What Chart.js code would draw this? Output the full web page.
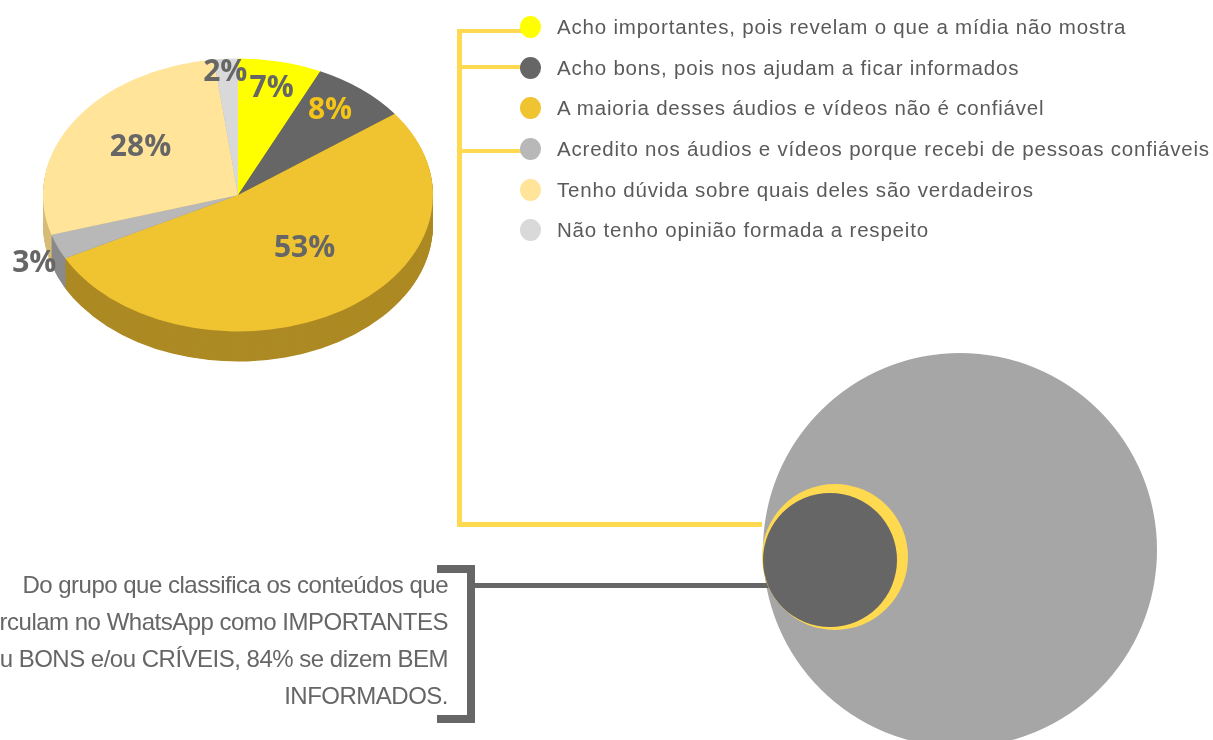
<!DOCTYPE html>
<html lang="pt-BR">
<head>
<meta charset="utf-8">
<title>Conteúdos no WhatsApp</title>
<script src="https://cdn.jsdelivr.net/npm/chart.js@4"></script>
<style>
    html, body {
        margin: 0;
        padding: 0;
        background: #fff;
        width: 1213px;
        height: 740px;
        overflow: hidden;
        position: relative;
    }
    #pieWrap {
        position: absolute;
        left: 0;
        top: 0;
        width: 480px;
        height: 400px;
    }
    .bar {
        position: absolute;
    }
    .yellow { background: #FFD94F; }
    .grey { background: #666666; }
    .legend {
        position: absolute;
        left: 520px;
        top: 7px;
        font-family: "Liberation Sans", Arial, sans-serif;
        font-size: 20.5px;
        letter-spacing: 0.8px;
        color: #5a5a5a;
        z-index: 3;
    }
    .legend-item {
        display: flex;
        align-items: center;
        height: 40.6px;
        white-space: nowrap;
    }
    .legend-dot {
        width: 21px;
        height: 22px;
        border-radius: 50%;
        margin-right: 16px;
    }
    .circle {
        position: absolute;
        border-radius: 50%;
    }
    .note {
        position: absolute;
        right: 765px;
        top: 566px;
        text-align: right;
        white-space: nowrap;
        font-family: "Liberation Sans", Arial, sans-serif;
        font-size: 24px;
        letter-spacing: -0.5px;
        line-height: 37px;
        color: #666;
    }
</style>
</head>
<body>

<div id="pieWrap"><canvas id="pieChart" width="480" height="400"></canvas></div>

<!-- yellow connector -->
<div class="bar yellow" style="left:457px; top:29px; width:5px; height:498px;"></div>
<div class="bar yellow" style="left:457px; top:522px; width:305px; height:5px;"></div>
<div class="bar yellow" style="left:457px; top:29px; width:75px; height:4px;"></div>
<div class="bar yellow" style="left:457px; top:65px; width:75px; height:4px;"></div>
<div class="bar yellow" style="left:457px; top:149px; width:75px; height:4px;"></div>

<div class="legend" id="legend"></div>

<!-- circles -->
<div class="circle" style="left:763px; top:353px; width:394px; height:394px; background:#A6A6A6;"></div>
<div class="grey bar" style="left:475px; top:583px; width:300px; height:5px;"></div>
<div class="circle" style="left:762px; top:484px; width:146px; height:146px; background:#FFD94F;"></div>
<div class="circle" style="left:763px; top:493px; width:134px; height:134px; background:#666666;"></div>

<!-- bracket -->
<div class="bar grey" style="left:467px; top:565px; width:8px; height:158px;"></div>
<div class="bar grey" style="left:437px; top:565px; width:38px; height:8px;"></div>
<div class="bar grey" style="left:437px; top:715px; width:38px; height:8px;"></div>

<div class="note">
    Do grupo que classifica os conteúdos que<br>
    circulam no WhatsApp como IMPORTANTES<br>
    ou BONS e/ou CRÍVEIS, 84% se dizem BEM<br>
    INFORMADOS.
</div>

<script>
// ===================================
// Data
// ===================================
const categories = [
    'Acho importantes, pois revelam o que a mídia não mostra',
    'Acho bons, pois nos ajudam a ficar informados',
    'A maioria desses áudios e vídeos não é confiável',
    'Acredito nos áudios e vídeos porque recebi de pessoas confiáveis',
    'Tenho dúvida sobre quais deles são verdadeiros',
    'Não tenho opinião formada a respeito'
];
const percentages = [7, 8, 53, 3, 28, 2];

// Styles
const sliceColors = ['#FFFF00', '#666666', '#F0C330', '#B8B8B8', '#FFE499', '#D9D9D9'];
const sideColors  = ['#C8C800', '#4A4A4A', '#AD8A24', '#8A8A8A', '#D6BD78', '#AFAFAF'];
const labelColors = ['#666666', '#F5C518', '#666666', '#666666', '#666666', '#666666'];
// [radius factor, angle nudge in degrees]
const labelPlacement = [[0.80, 0], [0.78, -2], [0.52, -9], [1.16, -3.5], [0.61, 2], [0.90, -0.6]];

const tilt = 0.7;   // vertical squash of the pie
const depth = 43;   // thickness of the pie, before squash

// Legend
const legendBox = document.getElementById('legend');
categories.forEach((label, i) => {
    const item = document.createElement('div');
    item.className = 'legend-item';
    item.innerHTML = `<span class="legend-dot" style="background:${sliceColors[i]}"></span><span>${label}</span>`;
    legendBox.appendChild(item);
});

// 3D pie plugin: draws the side walls under the slices and the percent labels on top
const pie3d = {
    id: 'pie3d',
    beforeDatasetsDraw(chart) {
        const ctx = chart.ctx;
        const arcs = chart.getDatasetMeta(0).data;
        const cy = arcs[0].y;
        ctx.save();
        ctx.translate(0, cy);
        ctx.scale(1, tilt);
        ctx.translate(0, -cy);
        for (let d = depth; d > 0; d--) {
            arcs.forEach((a, i) => {
                ctx.beginPath();
                ctx.moveTo(a.x, a.y + d);
                ctx.arc(a.x, a.y + d, a.outerRadius, a.startAngle, a.endAngle);
                ctx.closePath();
                ctx.fillStyle = sideColors[i];
                ctx.fill();
            });
        }
    },
    afterDatasetsDraw(chart) {
        const ctx = chart.ctx;
        ctx.restore();
        const arcs = chart.getDatasetMeta(0).data;
        ctx.save();
        ctx.font = 'bold 30px "Open Sans", sans-serif';
        ctx.textAlign = 'center';
        ctx.textBaseline = 'middle';
        arcs.forEach((a, i) => {
            const mid = (a.startAngle + a.endAngle) / 2 + labelPlacement[i][1] * Math.PI / 180;
            const r = a.outerRadius * labelPlacement[i][0];
            const x = a.x + Math.cos(mid) * r;
            const y = a.y + Math.sin(mid) * r * tilt;
            ctx.fillStyle = labelColors[i];
            ctx.fillText(percentages[i] + '%', x, y);
        });
        ctx.restore();
    }
};

new Chart(document.getElementById('pieChart'), {
    type: 'pie',
    data: {
        labels: categories,
        datasets: [{
            data: percentages,
            backgroundColor: sliceColors,
            borderWidth: 0
        }]
    },
    options: {
        responsive: false,
        animation: false,
        layout: {
            padding: { left: 43, right: 47, top: 0, bottom: 10 }
        },
        plugins: {
            legend: { display: false },
            tooltip: { enabled: false }
        }
    },
    plugins: [pie3d]
});
</script>
</body>
</html>
